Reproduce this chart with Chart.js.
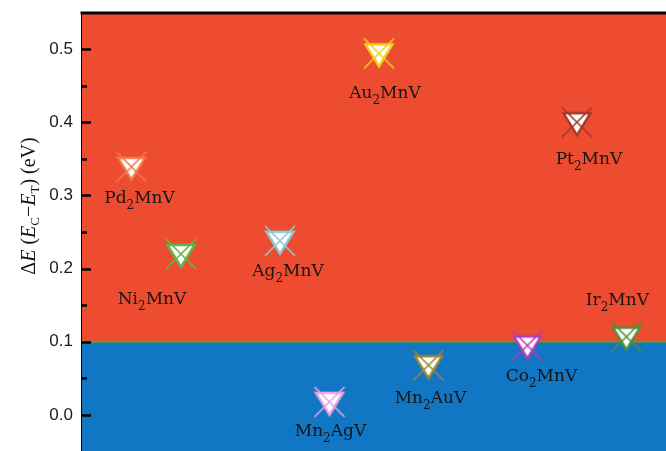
<!DOCTYPE html>
<html>
<head>
<meta charset="utf-8">
<script src="https://cdn.jsdelivr.net/npm/chart.js@4.4.1/dist/chart.umd.min.js"></script>
<style>
  html, body { margin: 0; padding: 0; background: #ffffff; overflow: hidden; }
  #wrap { width: 666px; height: 451px; }
</style>
</head>
<body>
<div id="wrap"><canvas id="c" width="666" height="451"></canvas></div>
<script>
// Heusler compounds and their energy difference ΔE = E_C − E_T (eV)
const compounds = ['Pd2MnV', 'Ni2MnV', 'Ag2MnV', 'Mn2AgV', 'Au2MnV', 'Mn2AuV', 'Co2MnV', 'Pt2MnV', 'Ir2MnV'];
const slots     = [0, 1, 3, 4, 5, 6, 8, 9, 10];
const deltaE    = [0.339, 0.220, 0.238, 0.018, 0.494, 0.068, 0.095, 0.400, 0.107];
const yTicks    = [0.0, 0.1, 0.2, 0.3, 0.4, 0.5];
const threshold = 0.1;

// styling
const markerColors = ['#f07a45', '#62b845', '#8ccbd6', '#e4a6e6', '#f2cf1a', '#9a8636', '#b43cb8', '#a23a26', '#4f8f3c'];
const labelOffsets = [[8, 36], [-29, 50], [8, 35], [1, 34], [6, 45], [2, 38], [14, 36], [12, 42], [-9, -32]];
const upperFill = '#ee4c30';
const lowerFill = '#1176c3';
const LABEL_FONT = '"DejaVu Serif", "Liberation Serif", serif';
const TITLE_FONT = '"Liberation Serif", "Times New Roman", serif';

function makeMarker(color) {
  const s = 40, m = s / 2;
  const c = document.createElement('canvas');
  c.width = s; c.height = s;
  const g = c.getContext('2d');
  g.beginPath();
  g.moveTo(m - 13.5, m - 9);
  g.lineTo(m + 13.5, m - 9);
  g.lineTo(m, m + 13);
  g.closePath();
  g.fillStyle = '#ffffff';
  g.fill();
  g.lineWidth = 2.4;
  g.lineJoin = 'miter';
  g.strokeStyle = color;
  g.stroke();
  g.beginPath();
  g.moveTo(m - 15, m - 15); g.lineTo(m + 15, m + 15);
  g.moveTo(m + 15, m - 15); g.lineTo(m - 15, m + 15);
  g.lineWidth = 1.6;
  g.stroke();
  return c;
}

function drawRich(ctx, parts, x, y, align) {
  let total = 0;
  parts.forEach(p => { ctx.font = p.font; p.w = ctx.measureText(p.t).width; total += p.w; });
  let cx = align === 'center' ? x - total / 2 : x;
  ctx.textAlign = 'left';
  ctx.textBaseline = 'alphabetic';
  parts.forEach(p => { ctx.font = p.font; ctx.fillText(p.t, cx, y + (p.dy || 0)); cx += p.w; });
}

function formulaParts(name) {
  return name.split(/(\d+)/).filter(s => s.length).map(s =>
    /^\d+$/.test(s)
      ? { t: s, font: '12px ' + LABEL_FONT, dy: 6 }
      : { t: s, font: '17px ' + LABEL_FONT, dy: 0 });
}

const regionsPlugin = {
  id: 'regions',
  beforeDatasetsDraw(chart) {
    const { ctx, chartArea: a, scales: { y } } = chart;
    const yt = y.getPixelForValue(threshold);
    ctx.save();
    ctx.fillStyle = upperFill;
    ctx.fillRect(a.left, a.top, a.right - a.left, yt - a.top);
    ctx.fillStyle = lowerFill;
    ctx.fillRect(a.left, yt, a.right - a.left, a.bottom - yt);
    ctx.strokeStyle = '#5c9a3a';
    ctx.lineWidth = 2;
    ctx.beginPath();
    ctx.moveTo(a.left, yt);
    ctx.lineTo(a.right, yt);
    ctx.stroke();
    ctx.restore();
  }
};

const frameLabelsPlugin = {
  id: 'frameLabels',
  afterDatasetsDraw(chart) {
    const { ctx, chartArea: a, scales: { y } } = chart;
    ctx.save();
    // compound names with subscripts
    ctx.fillStyle = '#161616';
    chart.getDatasetMeta(0).data.forEach((pt, i) => {
      const [dx, dy] = labelOffsets[i];
      drawRich(ctx, formulaParts(compounds[i]), pt.x + dx, pt.y + dy, 'center');
    });
    // top frame line
    ctx.strokeStyle = '#000';
    ctx.lineWidth = 3;
    ctx.beginPath();
    ctx.moveTo(a.left - 1.5, a.top);
    ctx.lineTo(a.right, a.top);
    ctx.stroke();
    // inward ticks: major at labelled values, minor halfway between
    ctx.lineWidth = 2.5;
    const step = yTicks[1] - yTicks[0];
    const marks = [];
    yTicks.forEach(v => { marks.push([v, 9]); marks.push([v + step / 2, 5]); });
    marks.forEach(([v, len]) => {
      if (v < y.min || v > y.max) return;
      const py = Math.round(y.getPixelForValue(v)) + 0.5;
      ctx.beginPath();
      ctx.moveTo(a.left, py);
      ctx.lineTo(a.left + len, py);
      ctx.stroke();
    });
    // y axis title: ΔE (E_C − E_T) (eV)
    ctx.translate(29, 206);
    ctx.rotate(-Math.PI / 2);
    ctx.fillStyle = '#111';
    const up = '20px ' + TITLE_FONT, it = 'italic 20px ' + TITLE_FONT, sb = '13px ' + TITLE_FONT;
    drawRich(ctx, [
      { t: 'Δ', font: up }, { t: 'E', font: it }, { t: ' (', font: up },
      { t: 'E', font: it }, { t: 'C', font: sb, dy: 4 }, { t: '−', font: up },
      { t: 'E', font: it }, { t: 'T', font: sb, dy: 4 }, { t: ') (eV)', font: up }
    ], 0, 6, 'center');
    ctx.restore();
  }
};

new Chart(document.getElementById('c'), {
  type: 'scatter',
  data: {
    datasets: [{
      data: slots.map((s, i) => ({ x: s, y: deltaE[i] })),
      pointStyle: markerColors.map(makeMarker),
      pointRadius: 14,
      pointHoverRadius: 14
    }]
  },
  options: {
    responsive: false,
    animation: false,
    devicePixelRatio: 1,
    layout: { autoPadding: false, padding: { top: 13, left: 0, right: 0, bottom: 0 } },
    plugins: { legend: { display: false }, tooltip: { enabled: false } },
    scales: {
      x: { type: 'linear', display: false, min: -1.0, max: 10.8 },
      y: {
        type: 'linear',
        min: -0.0492,
        max: 0.5492,
        afterBuildTicks: s => { s.ticks = yTicks.map(v => ({ value: v })); },
        afterFit: s => { s.width = 82; s.paddingTop = 0; s.paddingBottom = 0; },
        grid: { display: false, drawTicks: false },
        border: { display: true, color: '#000', width: 3 },
        ticks: {
          padding: 9,
          color: '#1a1a1a',
          font: { family: '"Liberation Sans", Arial, sans-serif', size: 17 },
          callback: v => Number(v).toFixed(1)
        }
      }
    }
  },
  plugins: [regionsPlugin, frameLabelsPlugin]
});
</script>
</body>
</html>
